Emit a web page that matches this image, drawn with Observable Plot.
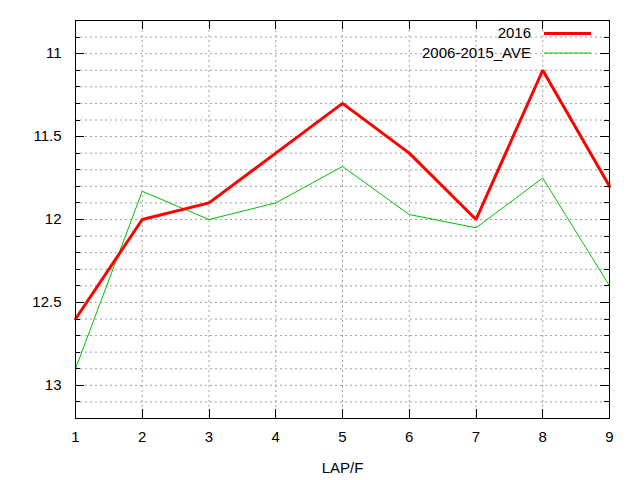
<!DOCTYPE html>
<html>
<head>
<meta charset="utf-8">
<script src="https://cdn.jsdelivr.net/npm/d3@7"></script>
<script src="https://cdn.jsdelivr.net/npm/@observablehq/plot@0.6"></script>
<style>
  html, body { margin: 0; padding: 0; background: #fff; }
  #chart svg { display: block; }
</style>
</head>
<body>
<div id="chart"></div>
<script>
const laps = [1, 2, 3, 4, 5, 6, 7, 8, 9];
const values2016 = [12.6, 12.0, 11.9, 11.6, 11.3, 11.6, 12.0, 11.1, 11.8];
const valuesAve = [12.9, 11.83, 12.0, 11.9, 11.68, 11.97, 12.05, 11.75, 12.4];
const seriesNames = ["2016", "2006-2015_AVE"];
const seriesColors = ["#ff0000", "#00c000"];
const seriesWidths = [3, 1];
const yMajorTicks = [11, 11.5, 12, 12.5, 13];
const yMinorTicks = [10.9, 11.0, 11.1, 11.2, 11.3, 11.4, 11.5, 11.6, 11.7, 11.8, 11.9, 12.0,
                     12.1, 12.2, 12.3, 12.4, 12.5, 12.6, 12.7, 12.8, 12.9, 13.0, 13.1, 13.2];
const yDomain = [10.8, 13.2];
const xLabel = "LAP/F";

const rows = [];
laps.forEach((lap, i) => {
  rows.push({lap, value: values2016[i], series: seriesNames[0]});
});
laps.forEach((lap, i) => {
  rows.push({lap, value: valuesAve[i], series: seriesNames[1]});
});

const font = "Liberation Sans, Arial, sans-serif";
const gridStyle = {stroke: "#a0a0a0", strokeOpacity: 1, strokeDasharray: "2,3", strokeWidth: 1};
const M = {left: 75, right: 31, top: 20, bottom: 62};

const chart = Plot.plot({
  width: 640,
  height: 480,
  marginLeft: M.left,
  marginRight: M.right,
  marginTop: M.top,
  marginBottom: M.bottom,
  style: {fontFamily: font, fontSize: "15px", color: "#000", background: "#fff"},
  x: {domain: [1, 9]},
  y: {domain: yDomain, reverse: true},
  marks: [
    Plot.ruleY(yMinorTicks, gridStyle),
    Plot.ruleX(laps, gridStyle),
    Plot.axisY({anchor: "left", ticks: yMajorTicks, tickSize: 0, tickPadding: 14, tickFormat: d => String(d), label: null, fontSize: 15}),
    Plot.axisX({anchor: "bottom", ticks: laps, tickSize: 0, tickPadding: 13, tickFormat: d => String(d), fontSize: 15,
                label: xLabel, labelAnchor: "center", labelOffset: 54, labelArrow: "none"}),
    Plot.line(rows.filter(d => d.series === seriesNames[1]), {x: "lap", y: "value", stroke: seriesColors[1], strokeWidth: seriesWidths[1], strokeLinejoin: "miter"}),
    Plot.line(rows.filter(d => d.series === seriesNames[0]), {x: "lap", y: "value", stroke: seriesColors[0], strokeWidth: seriesWidths[0], strokeLinejoin: "miter"}),
    Plot.frame({stroke: "#000", strokeWidth: 1})
  ]
});

const svg = d3.select(chart);
const xs = chart.scale("x"), ys = chart.scale("y");
const L = M.left, R = 640 - M.right, T = M.top, B = 480 - M.bottom;

// Inward tick marks on all four sides (gnuplot style)
const ticks = svg.append("g").attr("stroke", "#000").attr("stroke-width", 1);
const tickY = (v, len) => {
  const y = Math.round(ys.apply(v)) + 0.5;
  ticks.append("line").attr("x1", L).attr("x2", L + len).attr("y1", y).attr("y2", y);
  ticks.append("line").attr("x1", R).attr("x2", R - len).attr("y1", y).attr("y2", y);
};
yMinorTicks.forEach(v => tickY(v, 5));
yMajorTicks.forEach(v => tickY(v, 9));
laps.forEach(v => {
  const x = Math.round(xs.apply(v)) + 0.5;
  ticks.append("line").attr("x1", x).attr("x2", x).attr("y1", B).attr("y2", B - 9);
  ticks.append("line").attr("x1", x).attr("x2", x).attr("y1", T).attr("y2", T + 9);
});

// Legend inside the plot area, top-right (gnuplot style)
const legend = svg.append("g").attr("font-family", font).attr("font-size", 15);
seriesNames.forEach((name, i) => {
  const y = 33 + i * 19.5;
  legend.append("text")
    .attr("x", R - 78).attr("y", y).attr("dy", "0.35em")
    .attr("text-anchor", "end").attr("fill", "#000").text(name);
  legend.append("line")
    .attr("x1", R - 65).attr("x2", R - 18)
    .attr("y1", y + 0.5).attr("y2", y + 0.5)
    .attr("stroke", seriesColors[i]).attr("stroke-width", seriesWidths[i]);
});

document.getElementById("chart").appendChild(chart);
</script>
</body>
</html>
